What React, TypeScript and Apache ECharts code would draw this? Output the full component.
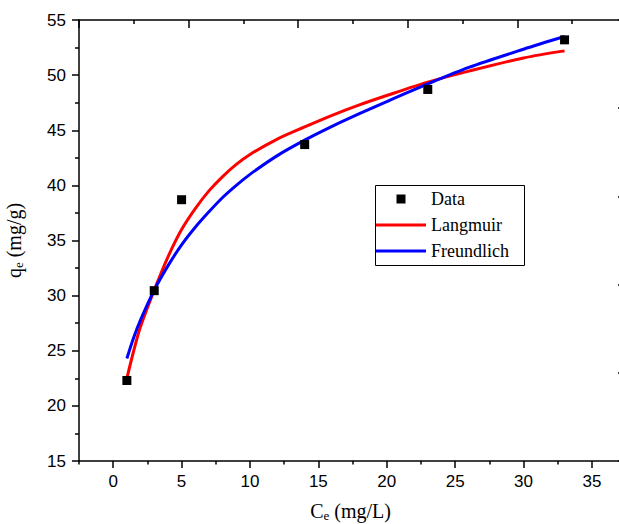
import React, { useEffect, useRef } from 'react';
import * as echarts from 'echarts';

const dataCe = [1, 3, 5, 14, 23, 33];
const dataQe = [22.3, 30.45, 38.7, 43.7, 48.7, 53.2];
const fitCe = [1, 1.5, 2, 3, 4, 5, 6, 7, 8, 9, 10, 12, 14, 16, 18, 20, 23, 26, 30, 33];
const langmuirQe = [22.5, 25.0, 27.2, 30.5, 33.5, 36.0, 37.9, 39.5, 40.8, 41.9, 42.8, 44.2, 45.3, 46.35, 47.3, 48.15, 49.36, 50.36, 51.56, 52.2];
const freundlichQe = [24.3, 26.2, 27.8, 30.5, 32.7, 34.6, 36.2, 37.6, 38.9, 40.0, 41.0, 42.7, 44.1, 45.35, 46.5, 47.6, 49.2, 50.7, 52.35, 53.5];
const xMajorTicks = [0, 5, 10, 15, 20, 25, 30, 35];
const xMinorTicks = [-2.5, 2.5, 7.5, 12.5, 17.5, 22.5, 27.5, 32.5];
const seriesNames = ['Data', 'Langmuir', 'Freundlich'];

export default function App() {
  const ref = useRef<HTMLDivElement>(null);
  useEffect(() => {
    const chart = echarts.init(ref.current!, null, { renderer: 'svg' });
    const sans = "'Liberation Sans', Arial, sans-serif";
    const serif = "'Liberation Serif', 'Times New Roman', serif";
    const ls = { color: '#000', width: 1.5 };
    const nameStyle = {
      fontFamily: serif,
      fontSize: 20,
      color: '#000',
      lineHeight: 22,
      rich: {
        sub: { fontFamily: serif, fontSize: 13, lineHeight: 13, verticalAlign: 'bottom', color: '#000' },
      },
    };
    const squareIcon = 'path://M0,0L10,0L10,10L0,10Z';
    const lineIcon = 'path://M0,0L50,0L50,3L0,3Z';
    chart.setOption({
      animation: false,
      backgroundColor: '#fff',
      grid: { left: 79, right: 3, top: 20, bottom: 63, containLabel: false, outerBoundsMode: 'none' },
      xAxis: [
        {
          type: 'value', position: 'bottom', min: -2.5, max: 37.2,
          axisLine: { show: true, onZero: false, lineStyle: ls },
          axisTick: { show: true, customValues: xMajorTicks, length: 7, lineStyle: ls },
          axisLabel: { customValues: xMajorTicks, fontSize: 17, fontFamily: sans, color: '#000', margin: 12 },
          splitLine: { show: false },
          name: 'C{sub|e} (mg/L)', nameLocation: 'middle', nameGap: 39, nameTextStyle: nameStyle,
        },
        {
          type: 'value', position: 'bottom', min: -2.5, max: 37.2,
          axisLine: { show: false },
          axisTick: { show: true, customValues: xMinorTicks, length: 3.5, lineStyle: ls },
          axisLabel: { show: false },
          splitLine: { show: false },
        },
        {
          type: 'value', position: 'top', min: 0, max: 9.91, interval: 2,
          axisLine: { show: true, onZero: false, lineStyle: ls },
          axisTick: { show: true, inside: true, length: 8, lineStyle: ls },
          minorTick: { show: true, splitNumber: 2, length: 4, lineStyle: ls },
          axisLabel: { show: false },
          splitLine: { show: false },
          minorSplitLine: { show: false },
        },
      ],
      yAxis: [
        {
          type: 'value', position: 'left', min: 15, max: 55, interval: 5,
          axisLine: { show: true, onZero: false, lineStyle: ls },
          axisTick: { show: true, length: 7, lineStyle: ls },
          minorTick: { show: true, splitNumber: 2, length: 4, lineStyle: ls },
          axisLabel: { fontSize: 17, fontFamily: sans, color: '#000', margin: 13 },
          splitLine: { show: false },
          minorSplitLine: { show: false },
          name: 'q{sub|e} (mg/g)', nameLocation: 'middle', nameGap: 54, nameTextStyle: nameStyle,
        },
        {
          type: 'value', position: 'right', min: 0, max: 5, interval: 1,
          axisLine: { show: true, onZero: false, lineStyle: ls },
          axisTick: { show: true, inside: true, length: 4, lineStyle: ls },
          axisLabel: { show: false },
          splitLine: { show: false },
        },
      ],
      legend: {
        data: [
          { name: seriesNames[0], icon: squareIcon },
          { name: seriesNames[1], icon: lineIcon },
          { name: seriesNames[2], icon: lineIcon },
        ],
        orient: 'vertical',
        left: 376,
        top: 189,
        padding: 0,
        itemWidth: 50,
        itemHeight: 9,
        itemGap: 6,
        borderWidth: 0,
        textStyle: { fontFamily: serif, fontSize: 18, color: '#000', lineHeight: 20 },
      },
      graphic: [
        {
          type: 'rect',
          shape: { x: 375.5, y: 185.5, width: 149, height: 80 },
          style: { fill: 'none', stroke: '#000', lineWidth: 1 },
          silent: true,
        },
      ],
      series: [
        {
          name: seriesNames[1], type: 'line', xAxisIndex: 0, yAxisIndex: 0,
          data: fitCe.map((c, i) => [c, langmuirQe[i]]),
          symbol: 'none', smooth: 0.3,
          lineStyle: { color: '#ff0000', width: 3 }, itemStyle: { color: '#ff0000' },
        },
        {
          name: seriesNames[2], type: 'line', xAxisIndex: 0, yAxisIndex: 0,
          data: fitCe.map((c, i) => [c, freundlichQe[i]]),
          symbol: 'none', smooth: 0.3,
          lineStyle: { color: '#0000ff', width: 3 }, itemStyle: { color: '#0000ff' },
        },
        {
          name: seriesNames[0], type: 'scatter', xAxisIndex: 0, yAxisIndex: 0,
          data: dataCe.map((c, i) => [c, dataQe[i]]),
          symbol: 'rect', symbolSize: 9, itemStyle: { color: '#000', opacity: 1 }, z: 5,
        },
      ],
    });
    return () => chart.dispose();
  }, []);
  return (
    <div style={{ position: 'fixed', left: 0, top: 0, width: 619, height: 524, overflow: 'hidden', background: '#fff' }}>
      <div ref={ref} style={{ width: 625, height: 524 }} />
    </div>
  );
}
